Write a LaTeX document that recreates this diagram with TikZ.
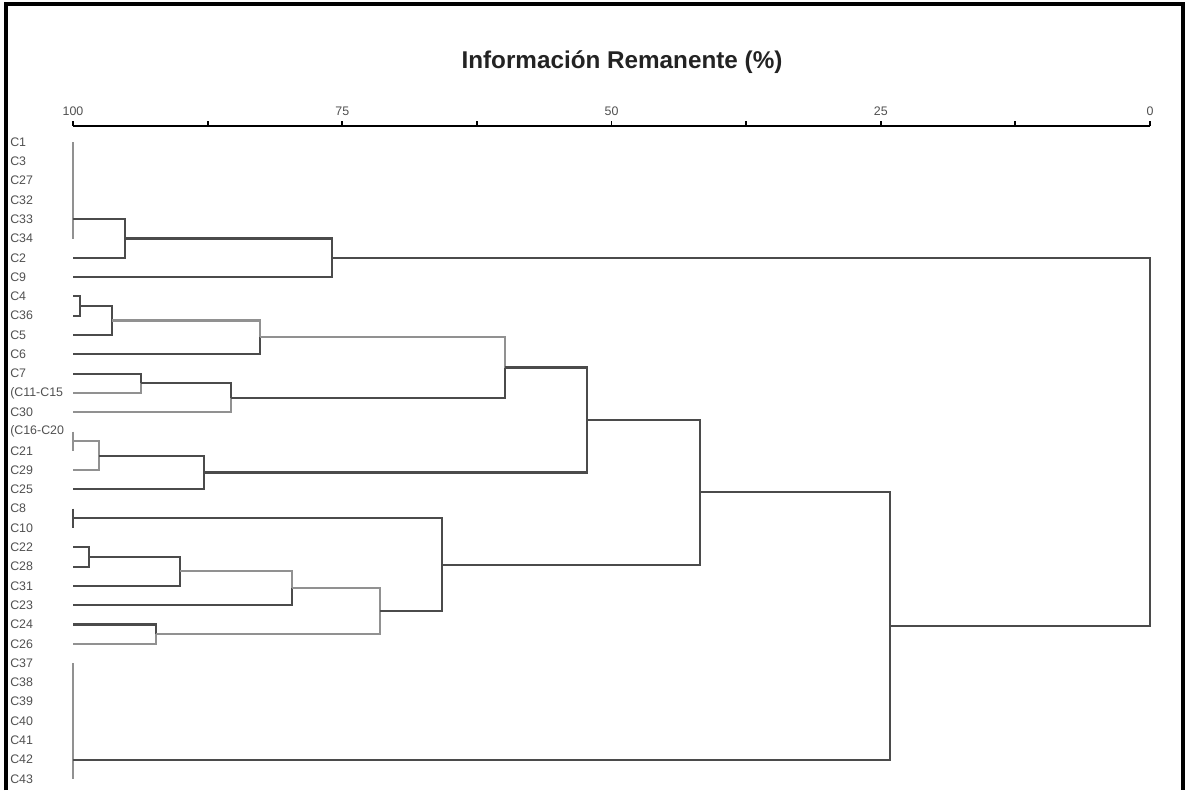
\documentclass[tikz,border=0pt]{standalone}
\usepackage{fontspec}
\setmainfont{Liberation Sans}
\definecolor{dk}{RGB}{75,75,75}
\definecolor{lt}{RGB}{145,145,145}
\definecolor{txt}{RGB}{80,80,80}
\definecolor{ttl}{RGB}{35,35,35}
\newcommand\dendjoin[5]{%
  \draw[#4] (#1) -- (#1 -| #3) -- (#3);
  \draw[#5] (#2) -- (#2 -| #3) -- (#3);}
\begin{document}
\begin{tikzpicture}[x=0.75pt,y=-0.75pt,
  dline/.style={draw=dk,line width=1.6pt},
  lline/.style={draw=lt,line width=1.6pt},
  lab/.style={anchor=west,inner sep=0pt,font=\fontsize{9.3}{10}\selectfont,text=txt},
  num/.style={inner sep=0pt,font=\fontsize{9.3}{10}\selectfont,text=txt},
  frame/.style={draw=black,line width=2.3pt},
  axis/.style={draw=black,line width=2.2pt},
  tick/.style={draw=black,line width=1.4pt}]
\useasboundingbox (0,0) rectangle (1185,790);
% frame
\draw[frame] (6,790) -- (6,4) -- (1183,4) -- (1183,790);
% title
\node[inner sep=0pt,font=\bfseries\fontsize{18.2}{20}\selectfont,text=ttl] (title) at (622,62) {Información Remanente (\%)};
% axis
\coordinate (ax0) at (73,126);
\coordinate (ax1) at (1150,126);
\draw[axis] (ax0) -- (ax1);
\foreach \k in {0,...,8} \draw[tick] ({73+\k*134.625},126) -- ++(0,-5);
\node[num] (t100) at (73,111) {100};
\node[num] (t75) at (342.25,111) {75};
\node[num] (t50) at (611.5,111) {50};
\node[num] (t25) at (880.75,111) {25};
\node[num] (t0) at (1150,111) {0};
% leaves
\foreach \i in {1,...,34} \coordinate (r\i) at (73,{142+(\i-1)*19.3});
\node[lab] (n1) at (10,142) {C1};
\node[lab] (n2) at (10,161.3) {C3};
\node[lab] (n3) at (10,180.6) {C27};
\node[lab] (n4) at (10,199.9) {C32};
\node[lab] (n5) at (10,219.2) {C33};
\node[lab] (n6) at (10,238.5) {C34};
\node[lab] (n7) at (10,257.8) {C2};
\node[lab] (n8) at (10,277.1) {C9};
\node[lab] (n9) at (10,296.4) {C4};
\node[lab] (n10) at (10,315.7) {C36};
\node[lab] (n11) at (10,335) {C5};
\node[lab] (n12) at (10,354.3) {C6};
\node[lab] (n13) at (10,373.6) {C7};
\node[lab] (n14) at (10,392.9) {(C11-C15};
\node[lab] (n15) at (10,412.2) {C30};
\node[lab] (n16) at (10,431.5) {(C16-C20};
\node[lab] (n17) at (10,450.8) {C21};
\node[lab] (n18) at (10,470.1) {C29};
\node[lab] (n19) at (10,489.4) {C25};
\node[lab] (n20) at (10,508.7) {C8};
\node[lab] (n21) at (10,528) {C10};
\node[lab] (n22) at (10,547.3) {C22};
\node[lab] (n23) at (10,566.6) {C28};
\node[lab] (n24) at (10,585.9) {C31};
\node[lab] (n25) at (10,605.2) {C23};
\node[lab] (n26) at (10,624.5) {C24};
\node[lab] (n27) at (10,643.8) {C26};
\node[lab] (n28) at (10,663.1) {C37};
\node[lab] (n29) at (10,682.4) {C38};
\node[lab] (n30) at (10,701.7) {C39};
\node[lab] (n31) at (10,721) {C40};
\node[lab] (n32) at (10,740.3) {C41};
\node[lab] (n33) at (10,759.6) {C42};
\node[lab] (n34) at (10,778.9) {C43};
% zero-distance groups
\coordinate (g16) at (73,441.15);
\coordinate (g8) at (73,518.35);
\draw[lline] (r1) -- (r6);
\draw[lline] (r16) -- (r17);
\draw[dline] (r20) -- (r21);
\draw[lline] (r28) -- (r34);
% cluster points
\coordinate (A) at (125,238.5);
\coordinate (B) at (332,257.8);
\coordinate (C) at (80,306.05);
\coordinate (D) at (112,320.5);
\coordinate (E) at (260,337.4);
\coordinate (F) at (141,383.25);
\coordinate (G) at (231,397.7);
\coordinate (H) at (505,367.55);
\coordinate (I) at (99,455.6);
\coordinate (J) at (204,472.5);
\coordinate (K) at (587,420.0);
\coordinate (L) at (89,556.95);
\coordinate (M) at (180,571.4);
\coordinate (N) at (292,588.3);
\coordinate (O) at (156,634.15);
\coordinate (P) at (380,611.2);
\coordinate (Q) at (442,564.8);
\coordinate (R) at (700,492.4);
\coordinate (S) at (890,626);
\coordinate (T) at (1150,441.9);
% joins
\dendjoin{r5}{r7}{A}{dline}{dline}
\dendjoin{A}{r8}{B}{dline}{dline}
\dendjoin{r9}{r10}{C}{dline}{dline}
\dendjoin{C}{r11}{D}{dline}{dline}
\dendjoin{D}{r12}{E}{lline}{dline}
\dendjoin{r13}{r14}{F}{dline}{lline}
\dendjoin{F}{r15}{G}{dline}{lline}
\dendjoin{E}{G}{H}{lline}{dline}
\dendjoin{g16}{r18}{I}{lline}{lline}
\dendjoin{I}{r19}{J}{dline}{dline}
\dendjoin{H}{J}{K}{dline}{dline}
\dendjoin{r22}{r23}{L}{dline}{dline}
\dendjoin{L}{r24}{M}{dline}{dline}
\dendjoin{M}{r25}{N}{lline}{dline}
\dendjoin{r26}{r27}{O}{dline}{lline}
\dendjoin{N}{O}{P}{lline}{lline}
\dendjoin{g8}{P}{Q}{dline}{dline}
\dendjoin{K}{Q}{R}{dline}{dline}
\dendjoin{R}{r33}{S}{dline}{dline}
\dendjoin{B}{S}{T}{dline}{dline}
\end{tikzpicture}
\end{document}
